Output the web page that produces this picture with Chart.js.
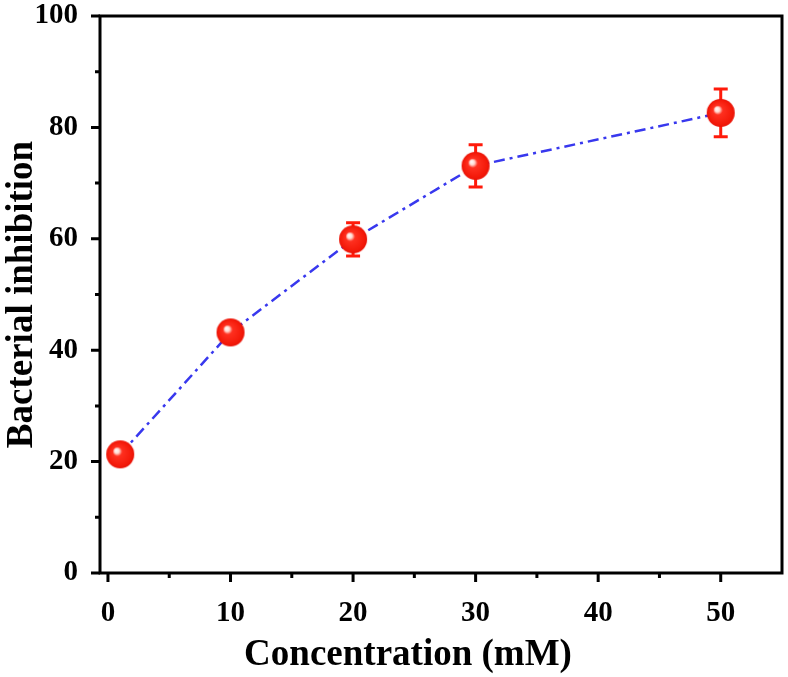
<!DOCTYPE html>
<html>
<head>
<meta charset="utf-8">
<script src="https://cdn.jsdelivr.net/npm/chart.js@4"></script>
<style>
  html, body { margin: 0; padding: 0; background: #fff; }
  #wrap { width: 788px; height: 677px; }
</style>
</head>
<body>
<div id="wrap"><canvas id="chart" width="788" height="677"></canvas></div>
<script>
// data
const concentration = [1, 10, 20, 30, 50];
const inhibition = [21.3, 43.2, 59.9, 73.1, 82.6];
const errorBar = [1.0, 1.4, 3.0, 3.8, 4.3];
const xMajorTicks = [0, 10, 20, 30, 40, 50];
const xMinorTicks = [5, 15, 25, 35, 45];
const yMajorTicks = [0, 20, 40, 60, 80, 100];
const yMinorTicks = [10, 30, 50, 70, 90];
const xTitle = 'Concentration (mM)';
const yTitle = 'Bacterial inhibition';

const FONT = '"Liberation Serif", "Times New Roman", serif';

// red shiny ball marker
function makeBall(r) {
    const c = document.createElement('canvas');
    c.width = c.height = r * 2 + 2;
    const g = c.getContext('2d');
    const cx = r + 1, cy = r + 1;
    const grad = g.createRadialGradient(cx - r * 0.3, cy - r * 0.3, 0, cx, cy, r);
    grad.addColorStop(0, '#ffffff');
    grad.addColorStop(0.18, '#ffd8d0');
    grad.addColorStop(0.34, '#ff3020');
    grad.addColorStop(0.85, '#f41a0a');
    grad.addColorStop(1, '#e81206');
    g.fillStyle = grad;
    g.beginPath();
    g.arc(cx, cy, r, 0, Math.PI * 2);
    g.fill();
    return c;
}

const points = concentration.map((x, i) => ({ x: x, y: inhibition[i] }));

const framePlugin = {
    id: 'frame',
    beforeDatasetsDraw(chart) {
        const ctx = chart.ctx;
        const xs = chart.scales.x, ys = chart.scales.y;
        // error bars
        ctx.save();
        ctx.strokeStyle = '#ff1a0a';
        ctx.lineWidth = 3;
        concentration.forEach((x, i) => {
            const px = xs.getPixelForValue(x);
            const top = ys.getPixelForValue(inhibition[i] + errorBar[i]);
            const bot = ys.getPixelForValue(inhibition[i] - errorBar[i]);
            ctx.beginPath();
            ctx.moveTo(px, top); ctx.lineTo(px, bot);
            ctx.moveTo(px - 7, top); ctx.lineTo(px + 7, top);
            ctx.moveTo(px - 7, bot); ctx.lineTo(px + 7, bot);
            ctx.stroke();
        });
        ctx.restore();
    },
    afterDraw(chart) {
        const ctx = chart.ctx;
        const a = chart.chartArea;
        const xs = chart.scales.x, ys = chart.scales.y;
        ctx.save();
        ctx.strokeStyle = '#000';
        ctx.lineWidth = 3;
        ctx.strokeRect(a.left, a.top, a.right - a.left, a.bottom - a.top);
        ctx.beginPath();
        xMajorTicks.forEach(v => {
            const p = xs.getPixelForValue(v);
            ctx.moveTo(p, a.bottom); ctx.lineTo(p, a.bottom + 9);
        });
        xMinorTicks.forEach(v => {
            const p = xs.getPixelForValue(v);
            ctx.moveTo(p, a.bottom); ctx.lineTo(p, a.bottom + 5);
        });
        yMajorTicks.forEach(v => {
            const p = ys.getPixelForValue(v);
            ctx.moveTo(a.left, p); ctx.lineTo(a.left - 9, p);
        });
        yMinorTicks.forEach(v => {
            const p = ys.getPixelForValue(v);
            ctx.moveTo(a.left, p); ctx.lineTo(a.left - 5, p);
        });
        ctx.stroke();
        // x axis title, sits a bit left of the plot centre in the original
        ctx.fillStyle = '#000';
        ctx.font = 'bold 37px ' + FONT;
        ctx.textAlign = 'center';
        ctx.textBaseline = 'alphabetic';
        ctx.fillText(xTitle, 408, 665);
        ctx.restore();
    }
};

new Chart(document.getElementById('chart'), {
    type: 'line',
    data: {
        datasets: [{
            label: yTitle,
            data: points,
            borderColor: '#3838ee',
            borderWidth: 2.5,
            borderDash: [11, 5, 3, 5],
            pointStyle: makeBall(14),
            pointRadius: 14,
            pointHoverRadius: 14,
            tension: 0,
            clip: false
        }]
    },
    options: {
        responsive: false,
        animation: false,
        events: [],
        layout: { autoPadding: false, padding: { top: 16, right: 6, left: 0, bottom: 0 } },
        plugins: { legend: { display: false }, tooltip: { enabled: false } },
        scales: {
            x: {
                type: 'linear',
                min: -0.65,
                max: 55,
                afterBuildTicks: s => { s.ticks = xMajorTicks.map(v => ({ value: v })); },
                afterFit: s => { s.height = 104; s.paddingLeft = 0; s.paddingRight = 0; },
                grid: { display: false },
                border: { display: false },
                ticks: {
                    color: '#000',
                    padding: 15,
                    font: { family: FONT, size: 29, weight: 'bold' }
                },
                title: { display: false }
            },
            y: {
                min: 0,
                max: 100,
                afterBuildTicks: s => { s.ticks = yMajorTicks.map(v => ({ value: v })); },
                afterFit: s => { s.width = 100; s.paddingTop = 0; s.paddingBottom = 0; },
                grid: { display: false },
                border: { display: false },
                ticks: {
                    color: '#000',
                    padding: 14,
                    font: { family: FONT, size: 29, weight: 'bold' }
                },
                title: {
                    display: true,
                    text: yTitle,
                    color: '#000',
                    padding: { top: 0, bottom: 0 },
                    font: { family: FONT, size: 37, weight: 'bold' }
                }
            }
        }
    },
    plugins: [framePlugin]
});
</script>
</body>
</html>
